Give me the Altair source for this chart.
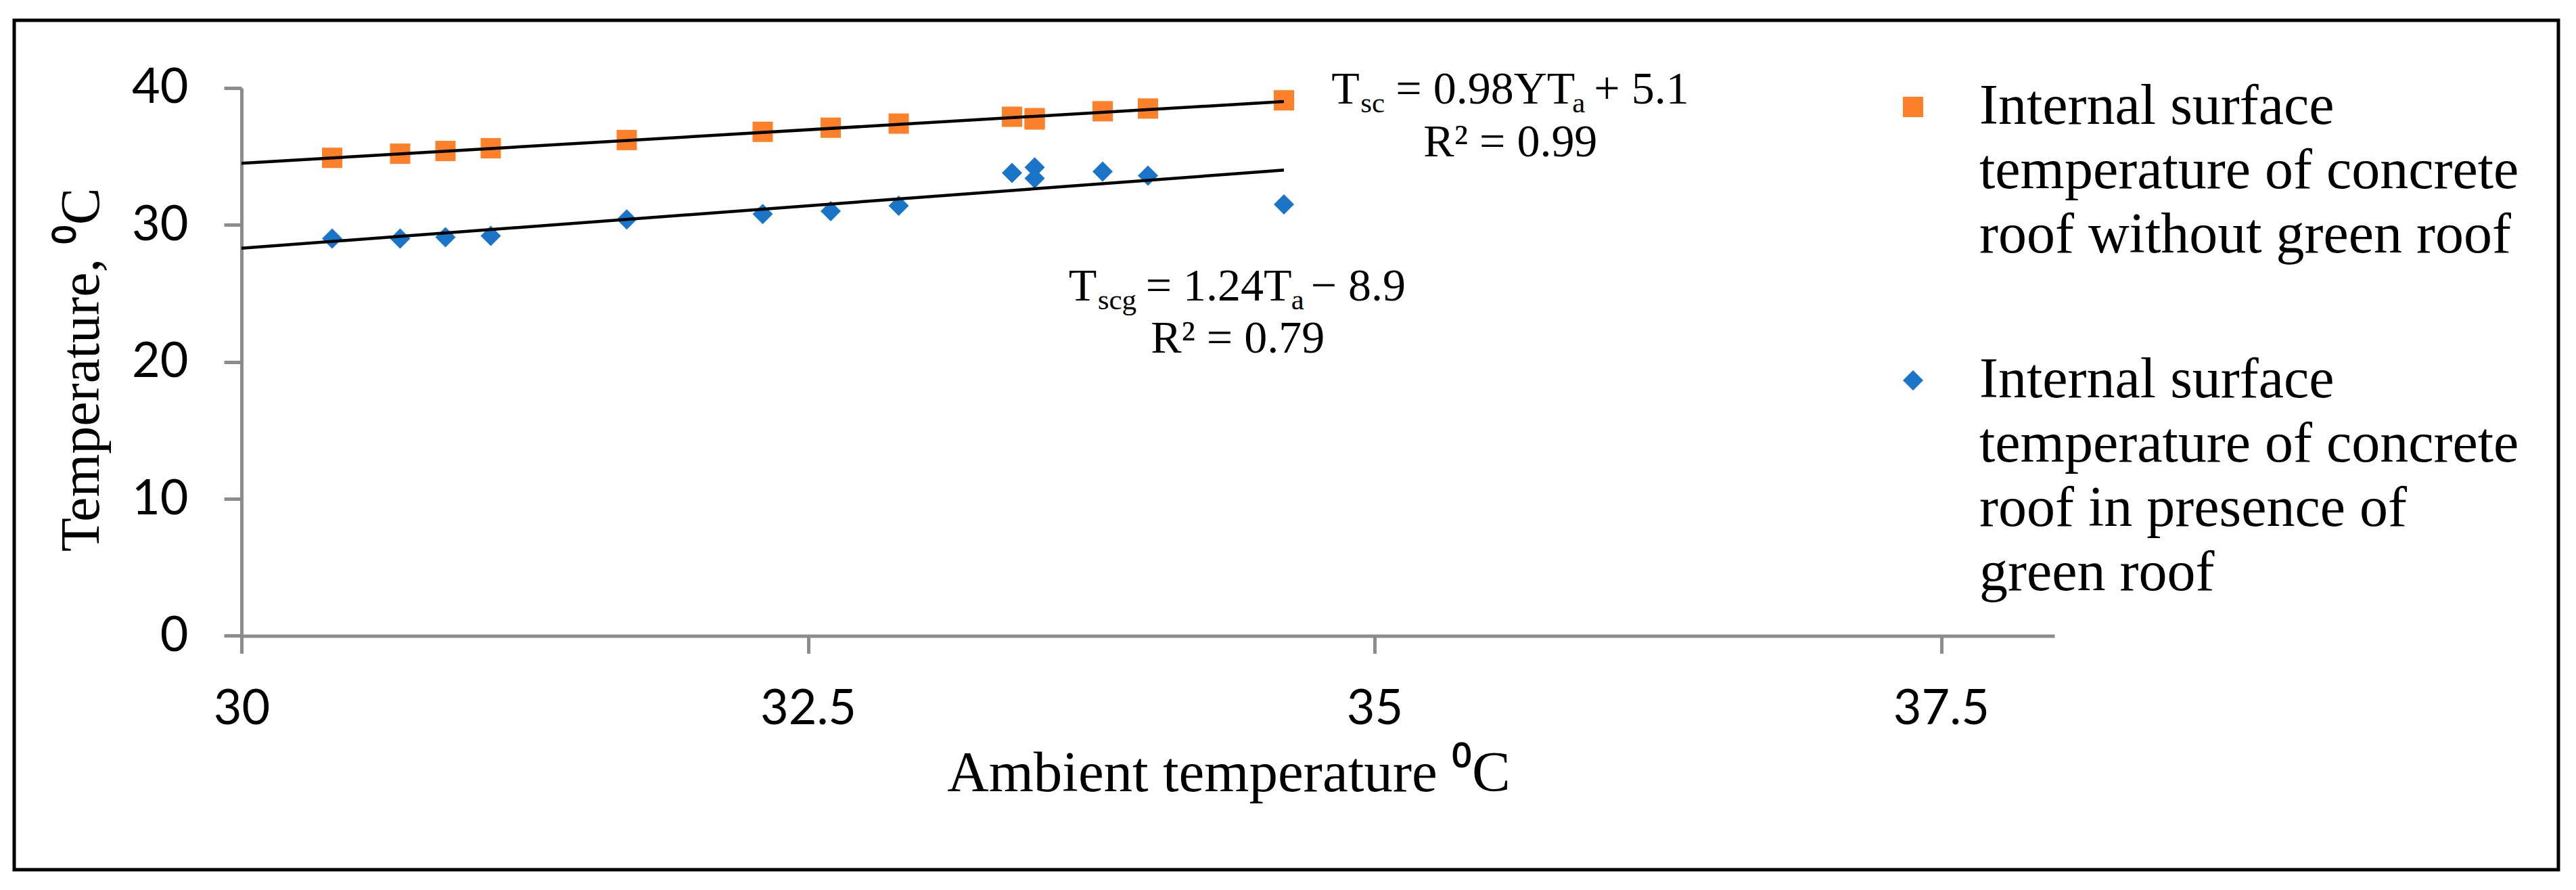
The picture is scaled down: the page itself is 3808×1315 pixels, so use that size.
import altair as alt
import pandas as pd

# ---------------- data ----------------
legend_lines = [
    ["Internal surface", "temperature of concrete", "roof without green roof"],
    ["Internal surface", "temperature of concrete", "roof in presence of", "green roof"],
]
series_colors = ["#FE8028", "#1A75C9"]
series_shapes = ["square", "diamond"]

ambient = [30.4, 30.7, 30.9, 31.1, 31.7, 32.3, 32.6, 32.9, 33.4, 33.5, 33.5, 33.8, 34.0, 34.6]
t_without_green = [34.9, 35.2, 35.4, 35.6, 36.2, 36.8, 37.1, 37.4, 37.9, 37.8, 37.7, 38.3, 38.5, 39.1]
t_with_green = [29.0, 29.0, 29.1, 29.2, 30.4, 30.8, 31.0, 31.4, 33.8, 34.2, 33.4, 33.9, 33.6, 31.5]

trend_slope = [0.98, 1.24]
trend_intercept = [5.1, -8.9]
trend_x_range = [30.0, 34.6]

x_ticks = [30, 32.5, 35, 37.5]
y_ticks = [0, 10, 20, 30, 40]

eq_x = [34.81, 33.65]
eq_y = [38.84, 24.48]
eq_sub = ["sc", "scg"]
eq_body = ["= 0.98YT", "= 1.24T"]
eq_tail = ["+ 5.1", "\u2212 8.9"]
eq_r2 = ["R\u00b2 = 0.99", "R\u00b2 = 0.79"]

x_title = "Ambient temperature \u2070C"
y_title = "Temperature, \u2070C"

# ---------------- tables ----------------
series = ["\n".join(l) for l in legend_lines]

pts = pd.DataFrame({
    "ambient": ambient * 2,
    "temp": t_without_green + t_with_green,
    "series": [series[0]] * len(ambient) + [series[1]] * len(ambient),
})

trend_rows = []
for s, m, b in zip(series, trend_slope, trend_intercept):
    for xv in trend_x_range:
        trend_rows.append({"ambient": xv, "temp": m * xv + b, "series": s})
trend = pd.DataFrame(trend_rows)

ann = pd.DataFrame({
    "ambient": eq_x, "temp": eq_y, "sub": eq_sub, "body": eq_body,
    "tail": eq_tail, "r2": eq_r2, "T": ["T", "T"], "a": ["a", "a"],
})

SERIF = "Liberation Serif"
SANS = "Lato"
GRAY = "#8C8C8C"

x_enc = alt.X(
    "ambient:Q",
    scale=alt.Scale(domain=[30, 38], nice=False, zero=False),
    axis=alt.Axis(
        values=x_ticks, format=".1~f", title=x_title,
        titleX=1459, titleY=229, titleAlign="center", titleBaseline="alphabetic",
        labelPadding=47, labelBaseline="top",
    ),
)
y_enc = alt.Y(
    "temp:Q",
    scale=alt.Scale(domain=[0, 40], nice=False, zero=False),
    axis=alt.Axis(
        values=y_ticks, title=y_title, titleFontSize=82,
        titleX=-212, titleY=416, titleAngle=270, titleAlign="center",
        titleBaseline="alphabetic", labelPadding=53,
    ),
)

legend = alt.Legend(
    title=None, orient="none", legendX=2429, legendY=-14, padding=0,
    labelExpr="split(datum.label, '\\n')",
    labelFont=SERIF, labelFontSize=84, labelColor="black",
    labelBaseline="middle", labelOffset=56, labelLimit=3000,
    symbolSize=900, symbolStrokeWidth=0, symbolType="square",
    rowPadding=130,
)

frame = alt.Chart(alt.Data(values=[{}])).mark_rect(
    filled=False, stroke="black", strokeWidth=5, clip=False
).encode(
    x=alt.value(-336), x2=alt.value(3425), y=alt.value(-100), y2=alt.value(1155)
)

points = alt.Chart(pts).mark_point(filled=True, opacity=1, size=900, strokeWidth=0).encode(
    x=x_enc,
    y=y_enc,
    color=alt.Color("series:N", scale=alt.Scale(domain=series, range=series_colors), legend=legend),
    shape=alt.Shape("series:N", scale=alt.Scale(domain=series, range=series_shapes), legend=legend),
)

lines = alt.Chart(trend).mark_line(color="black", strokeWidth=4.5).encode(
    x=x_enc, y=y_enc, detail="series:N"
)

MAIN = 68
SUB = 43
SUB_DY = 13
# pixel offsets of each piece from the start of the leading "T"
offsets = [
    {"sub": 43, "body": 95, "a": 356, "tail": 388, "r2": 264.5, "r2dy": 78},
    {"sub": 43, "body": 114, "a": 329, "tail": 358, "r2": 249.9, "r2dy": 77},
]

ann_layers = []
for i, off in enumerate(offsets):
    row = ann.iloc[[i]]
    base = alt.Chart(row)
    def piece(field, dx, dy, size, align="left"):
        return base.mark_text(
            font=SERIF, fontSize=size, color="black", align=align,
            baseline="alphabetic", dx=dx, dy=dy,
        ).encode(x=x_enc, y=y_enc, text=f"{field}:N")
    ann_layers += [
        piece("T", 0, 0, MAIN),
        piece("sub", off["sub"], SUB_DY, SUB),
        piece("body", off["body"], 0, MAIN),
        piece("a", off["a"], SUB_DY, SUB),
        piece("tail", off["tail"], 0, MAIN),
        piece("r2", off["r2"], off["r2dy"], MAIN, align="center"),
    ]

chart = alt.layer(frame, points, lines, *ann_layers).properties(
    width=2680, height=809.4,
    padding={"left": 349, "top": 122, "right": 760, "bottom": 360},
    autosize=alt.AutoSizeParams(type="none"),
    background="white",
).configure(
    style={"guide-label": {"lineHeight": 95}}
).configure_view(stroke=None).configure_axis(
    grid=False,
    domainColor=GRAY, domainWidth=5,
    tickColor=GRAY, tickWidth=5, tickSize=26,
    labelFont=SANS, labelFontSize=72, labelColor="black",
    labelFlush=False, labelOverlap=False,
    titleFont=SERIF, titleFontSize=85, titleFontWeight="normal", titleColor="black",
)

chart.save("out.html", embed_options={"renderer": "svg", "actions": False})
